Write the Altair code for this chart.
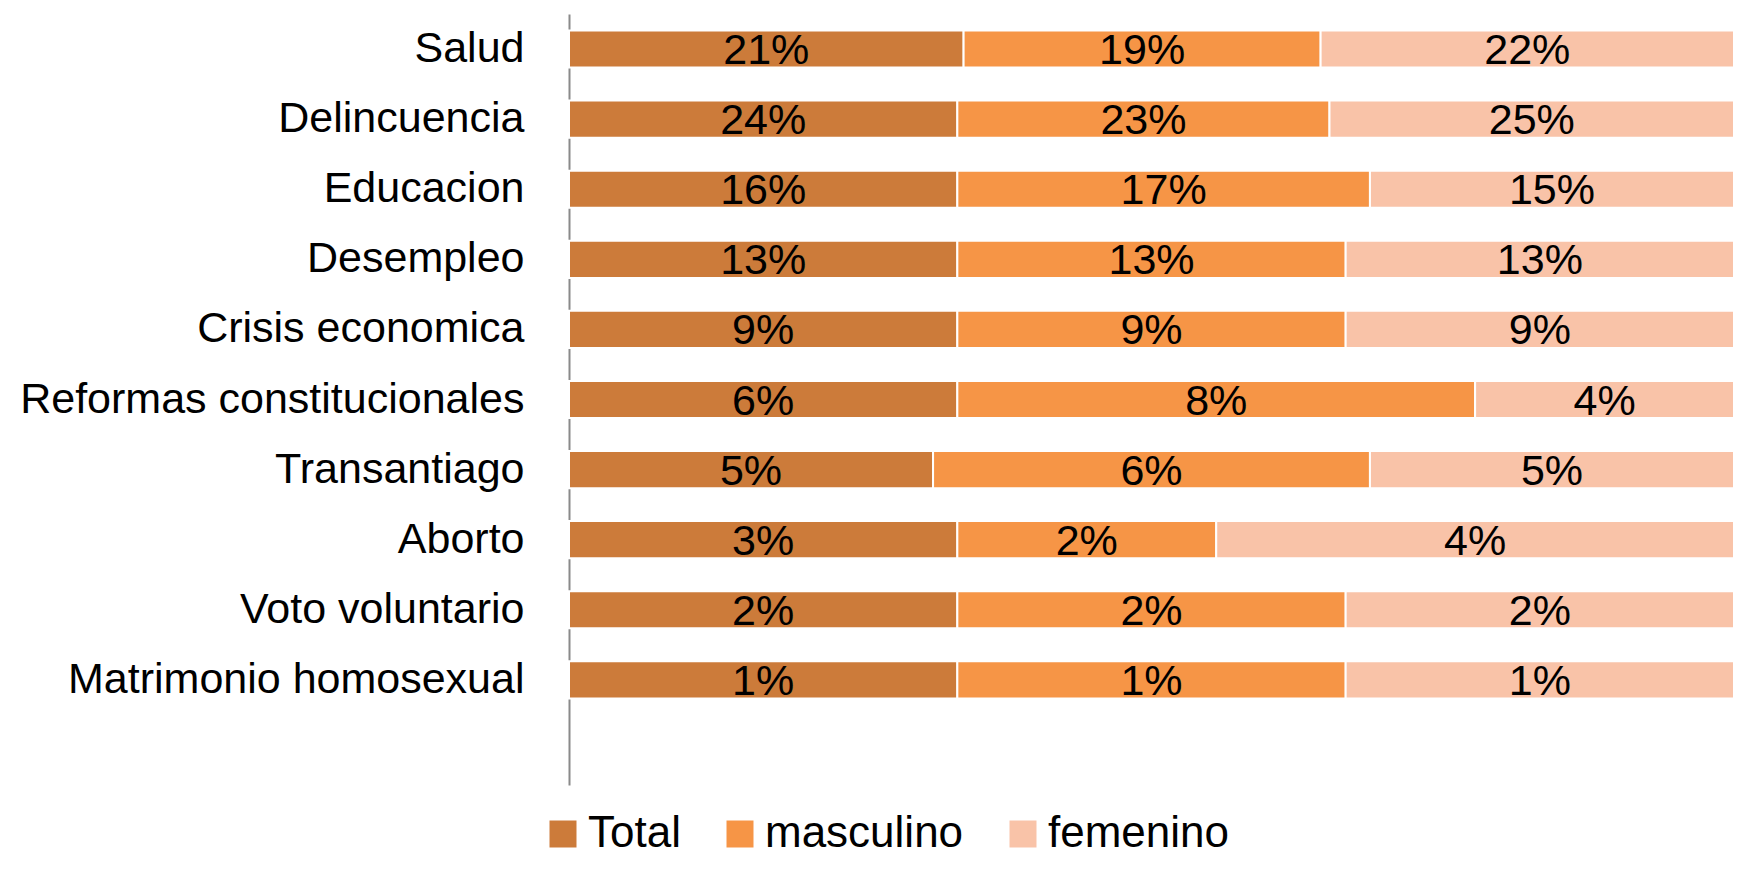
import altair as alt
import pandas as pd

categories = ["Salud", "Delincuencia", "Educacion", "Desempleo", "Crisis economica",
              "Reformas constitucionales", "Transantiago", "Aborto", "Voto voluntario",
              "Matrimonio homosexual"]
total = [21, 24, 16, 13, 9, 6, 5, 3, 2, 1]
masculino = [19, 23, 17, 13, 9, 8, 6, 2, 2, 1]
femenino = [22, 25, 15, 13, 9, 4, 5, 4, 2, 1]
series = ["Total", "masculino", "femenino"]
colors = ["#CC7B3A", "#F69546", "#F9C3A8"]

rows = []
for i, c in enumerate(categories):
    for j, (s, vals) in enumerate(zip(series, [total, masculino, femenino])):
        rows.append({"cat": c, "serie": s, "orden": j, "valor": vals[i]})
df = pd.DataFrame(rows)

y_domain = categories + [" "]
FONT = "Liberation Sans"

base = alt.Chart(df).transform_joinaggregate(
    suma="sum(valor)", groupby=["cat"]
).transform_window(
    acum="sum(valor)", groupby=["cat"], sort=[alt.SortField("orden")], frame=[None, 0]
).transform_calculate(
    x0="(datum.acum - datum.valor) / datum.suma",
    x1="datum.acum / datum.suma",
    xm="(datum.acum - datum.valor / 2) / datum.suma",
    etiqueta="datum.valor + '%'",
)

yenc = alt.Y(
    "cat:N",
    scale=alt.Scale(domain=y_domain, paddingInner=0.47),
    axis=alt.Axis(title=None, labelFont=FONT, labelFontSize=43, labelColor="#000000",
                  labelPadding=45, ticks=False, domainColor="#8A8A8A", domainWidth=2,
                  labelLimit=800),
)

bars = base.mark_bar(stroke="white", strokeWidth=2).encode(
    x=alt.X("x0:Q", scale=alt.Scale(domain=[0, 1], nice=False), axis=None),
    x2="x1:Q",
    y=yenc,
    color=alt.Color(
        "serie:N",
        scale=alt.Scale(domain=series, range=colors),
        legend=alt.Legend(title=None, orient="none", direction="horizontal",
                          legendX=-28, legendY=798, symbolType="square", symbolSize=729,
                          labelFont=FONT, labelFontSize=44, labelColor="#000000",
                          columnPadding=37, labelOffset=3, symbolStrokeWidth=0,
                          labelLimit=400),
    ),
)

labels = base.mark_text(font=FONT, fontSize=43, color="#000000", align="center",
                        baseline="middle", dy=2).encode(
    x=alt.X("xm:Q", scale=alt.Scale(domain=[0, 1], nice=False), axis=None),
    y=alt.Y("cat:N", scale=alt.Scale(domain=y_domain, paddingInner=0.47)),
    text="etiqueta:N",
)

chart = alt.layer(bars, labels).properties(
    width=1165, height=771,
    padding={"left": 561, "top": 6, "right": 0, "bottom": 77},
    autosize=alt.AutoSizeParams(type="none"),
).configure_view(stroke=None)

chart.save("out.html", embed_options={"renderer": "svg", "actions": False})
